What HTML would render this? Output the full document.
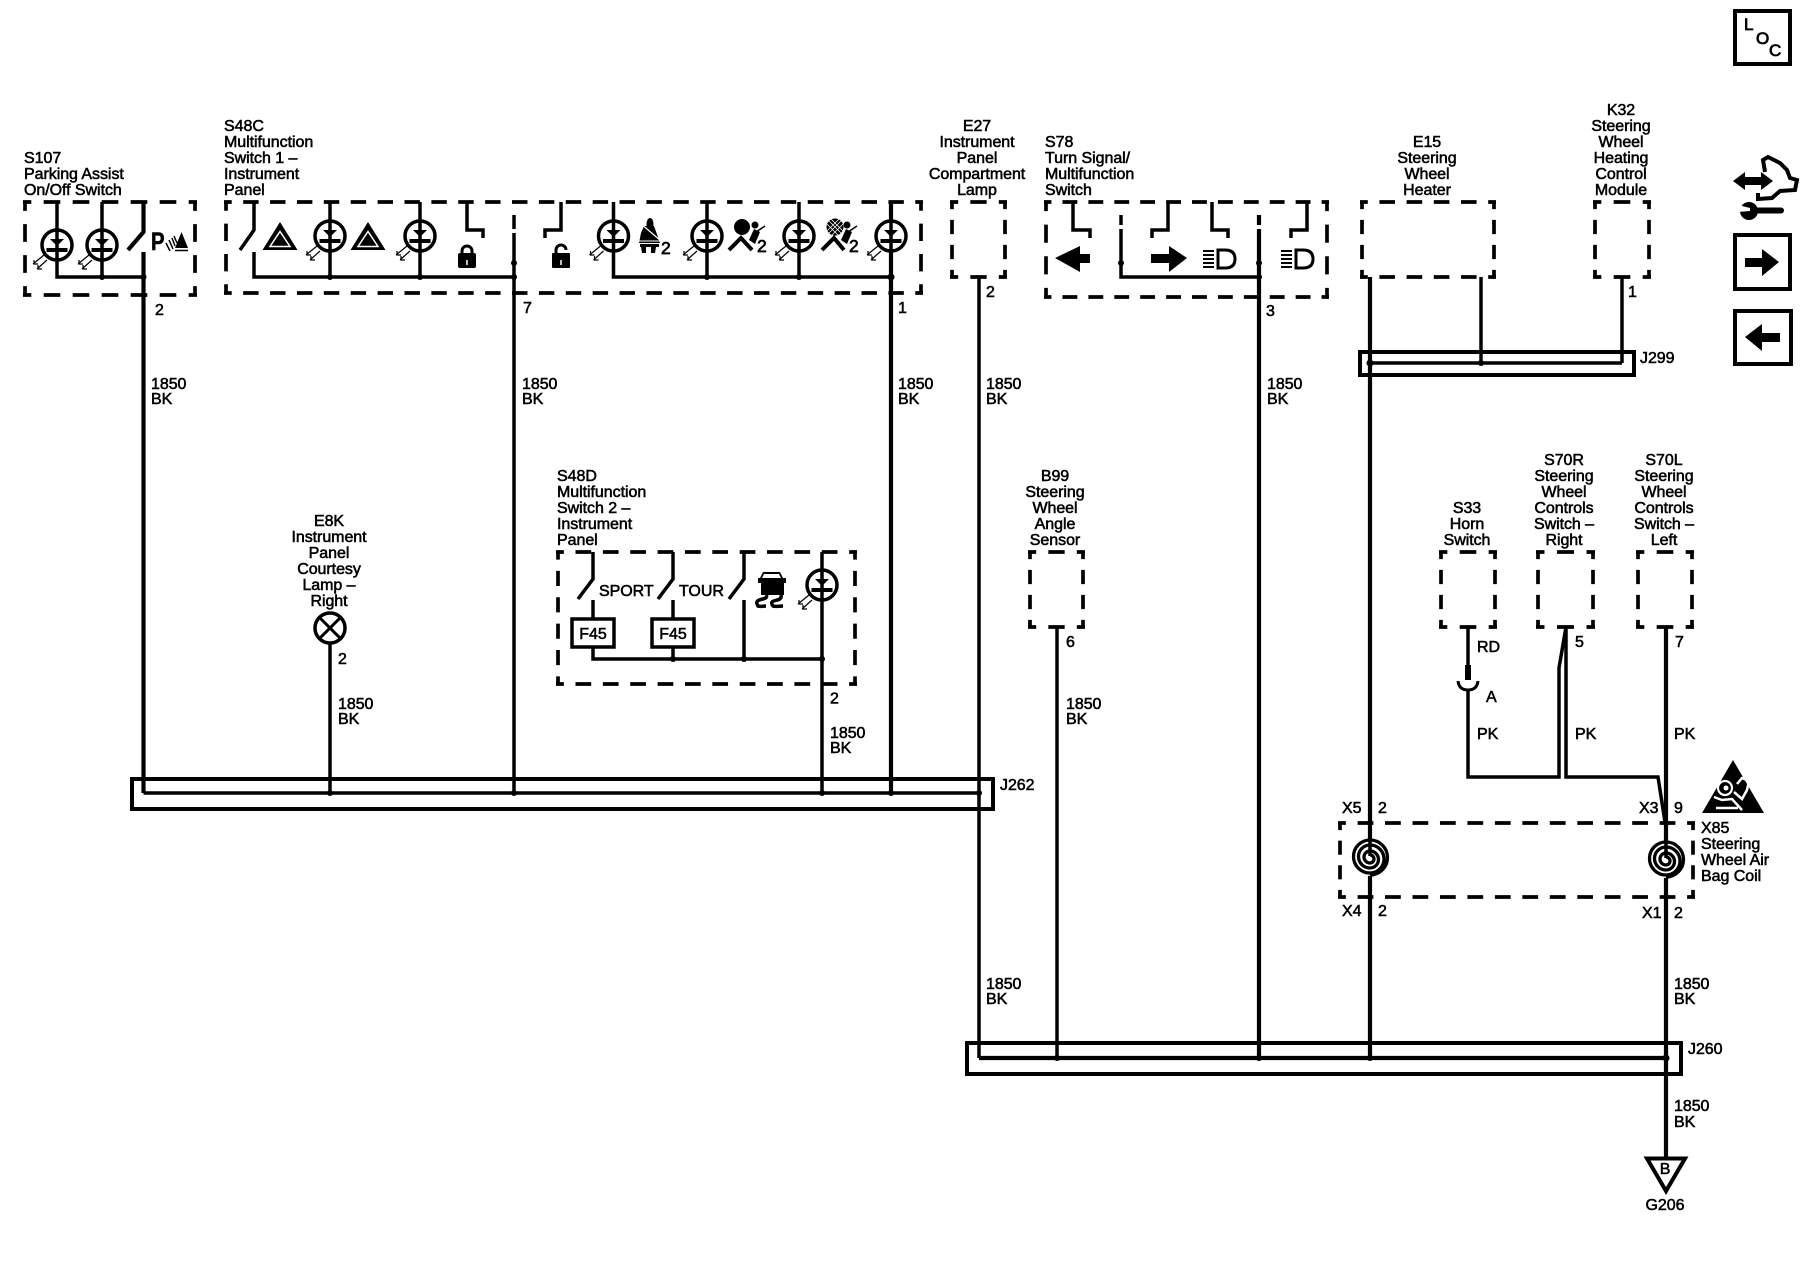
<!DOCTYPE html>
<html><head><meta charset="utf-8"><title>Wiring diagram</title>
<style>
html,body{margin:0;padding:0;background:#fff}
svg{display:block}
text{font-family:"Liberation Sans",sans-serif;font-size:16px;fill:#000;stroke:#000;stroke-width:.55;letter-spacing:-.05px}
.m{text-anchor:middle}
.w{fill:none;stroke:#000;stroke-width:3.5}
.h{fill:none;stroke:#000;stroke-width:4.2}
.t{fill:none;stroke:#000;stroke-width:3}
.d{fill:none;stroke:#000;stroke-width:3.7;stroke-dasharray:15.5 11.5;stroke-dashoffset:7.75}
</style></head><body>
<svg xmlns="http://www.w3.org/2000/svg" width="1800" height="1280" viewBox="0 0 1800 1280">
<defs>
<g id="led">
<circle r="15" fill="#fff" stroke="#000" stroke-width="3.5"/>
<path d="M-7-6H7L0 1Z" fill="#000"/>
<path d="M-10.500 5H10.500" stroke="#000" stroke-width="4"/>
<path d="M-13 10L-24 19M-10 15L-20 24M-23 15v4h4M-19 20v4h4" fill="none" stroke="#000" stroke-width="1.200"/>
</g>
<g id="coil">
<circle r="18" fill="#fff"/>
<path d="M0-3A4 4 0 0 1 0 5A6 6 0 0 1 0-7A8.500 8.500 0 0 1 0 10A11.500 11.500 0 0 1 0-13A14 14 0 0 1 0 15A16.500 16.500 0 0 1 0-18A17.500 17.500 0 0 1 0 17" fill="none" stroke="#000" stroke-width="3.300"/>
</g>
<g id="haz">
<path d="M0-28L17.500 0H-17.500Z" fill="#000"/>
<path d="M0-18.500L10-3.500H-10Z" fill="#000" stroke="#fff" stroke-width="1.500"/>
</g>
<g id="lamp">
<path d="M0 0V18H7Q17 18 17 9T7 0Z" fill="none" stroke="#000" stroke-width="3" transform="translate(15 0)"/>
<path d="M0 1H11M0 5H11M0 9H11M0 13H11M0 17H11" stroke="#000" stroke-width="2"/>
</g>
</defs>

<!-- dashed boxes -->
<g>
<path class="d" pathLength="162" d="M23 202H197"/><path class="d" pathLength="162" d="M23 295H197"/><path class="d" pathLength="81" d="M25 202V295"/><path class="d" pathLength="81" d="M195 202V295"/>
<path class="d" pathLength="702" d="M224 202H923"/><path class="d" pathLength="702" d="M224 293H923"/><path class="d" pathLength="81" d="M226 202V293"/><path class="d" pathLength="81" d="M921 202V293"/>
<path class="d" pathLength="54" d="M950 202H1007"/><path class="d" pathLength="54" d="M950 277H1007"/><path class="d" pathLength="81" d="M952 202V277"/><path class="d" pathLength="81" d="M1005 202V277"/>
<path class="d" pathLength="297" d="M1044 202H1329"/><path class="d" pathLength="297" d="M1044 297H1329"/><path class="d" pathLength="81" d="M1046 202V297"/><path class="d" pathLength="81" d="M1327 202V297"/>
<path class="d" pathLength="135" d="M1360 202H1496"/><path class="d" pathLength="135" d="M1360 277H1496"/><path class="d" pathLength="81" d="M1362 202V277"/><path class="d" pathLength="81" d="M1494 202V277"/>
<path class="d" pathLength="54" d="M1593 202H1651"/><path class="d" pathLength="54" d="M1593 277H1651"/><path class="d" pathLength="81" d="M1595 202V277"/><path class="d" pathLength="81" d="M1649 202V277"/>
<path class="d" pathLength="297" d="M556 552H857"/><path class="d" pathLength="297" d="M556 684H857"/><path class="d" pathLength="135" d="M558 552V684"/><path class="d" pathLength="135" d="M855 552V684"/>
<path class="d" pathLength="54" d="M1028 552H1085"/><path class="d" pathLength="54" d="M1028 627H1085"/><path class="d" pathLength="81" d="M1030 552V627"/><path class="d" pathLength="81" d="M1083 552V627"/>
<path class="d" pathLength="54" d="M1439 552H1497"/><path class="d" pathLength="54" d="M1439 627H1497"/><path class="d" pathLength="81" d="M1441 552V627"/><path class="d" pathLength="81" d="M1495 552V627"/>
<path class="d" pathLength="54" d="M1536 552H1595"/><path class="d" pathLength="54" d="M1536 627H1595"/><path class="d" pathLength="81" d="M1538 552V627"/><path class="d" pathLength="81" d="M1593 552V627"/>
<path class="d" pathLength="54" d="M1636 552H1694"/><path class="d" pathLength="54" d="M1636 627H1694"/><path class="d" pathLength="81" d="M1638 552V627"/><path class="d" pathLength="81" d="M1692 552V627"/>
<path class="d" pathLength="351" d="M1338 823H1695"/><path class="d" pathLength="351" d="M1338 897H1695"/><path class="d" pathLength="81" d="M1340 823V897"/><path class="d" pathLength="81" d="M1693 823V897"/>
</g>

<!-- splice bars -->
<rect x="132" y="779" width="861" height="30" fill="none" stroke="#000" stroke-width="4"/>
<rect x="967" y="1043" width="714" height="31" fill="none" stroke="#000" stroke-width="4"/>
<rect x="1360" y="352" width="274" height="23" fill="none" stroke="#000" stroke-width="4"/>

<!-- wires -->
<path class="w" d="M57 202V277H143.500M102 202V277"/>
<path class="h" d="M143.500 202V232L128 250M143.500 252V793"/>
<path class="w" d="M143.500 793H979"/>
<path class="w" d="M254 202V230L240 250M254 252V277H514"/>
<path class="w" d="M330 202V277M420 202V277"/>
<path class="w" d="M467 202V230H483V238M561 202V230H545V238"/>
<path class="w" d="M514 215V229M514 233V793"/>
<path class="w" d="M613.500 202V277H891M707 202V277M799 202V277"/>
<path class="h" d="M891 202V793"/>
<path class="w" d="M330 643V793"/>
<path class="w" d="M979 277V1058"/>
<path class="w" d="M1073 202V230H1090V238M1168 202V230H1152V238M1212 202V230H1228V238M1307 202V230H1291V238"/>
<path class="w" d="M1121 215V225M1121 229V277H1259"/>
<path class="h" d="M1259 215V225M1259 229V1058"/>
<path class="h" d="M1370 277V1058"/>
<path class="w" d="M1481 277V363M1622 277V363M1370 363H1622"/>
<path class="w" d="M593 552V579L578 599M593 600V619M593 647V659H822"/>
<path class="w" d="M673 552V579L658 599M673 600V619M673 647V659"/>
<path class="w" d="M744 552V579L729 599M744 600V659"/>
<path class="w" d="M822 552V793"/>
<path class="w" d="M1057 627V1058"/>
<path class="w" d="M1468 627V665M1468 690V777H1559V668L1566 627V777H1658L1665 822"/>
<path class="h" d="M1666 627V1157"/>
<path class="h" d="M979 1058H1666"/>

<!-- connector on horn -->
<path d="M1465 665h6v15h-6Z" fill="#000"/>
<path d="M1458 681Q1459 690 1468 690T1478 681" class="t"/>

<!-- junction dots -->
<g fill="#000">
<circle cx="102" cy="277" r="3"/><circle cx="143.500" cy="277" r="3"/>
<circle cx="330" cy="277" r="3"/><circle cx="420" cy="277" r="3"/><circle cx="514" cy="263" r="3"/><circle cx="514" cy="277" r="3"/>
<circle cx="707" cy="277" r="3"/><circle cx="799" cy="277" r="3"/><circle cx="891" cy="277" r="3.500"/>
<circle cx="1121" cy="263" r="3"/><circle cx="1259" cy="263" r="3"/><circle cx="1259" cy="277" r="3"/>
<circle cx="1370" cy="363" r="3.500"/><circle cx="1481" cy="363" r="3"/>
<circle cx="330" cy="793" r="3"/><circle cx="514" cy="793" r="3"/><circle cx="822" cy="793" r="3"/><circle cx="891" cy="793" r="3"/><circle cx="979" cy="793" r="3"/>
<circle cx="673" cy="659" r="3"/><circle cx="744" cy="659" r="3"/><circle cx="822" cy="659" r="3"/>
<circle cx="1057" cy="1058" r="3"/><circle cx="1259" cy="1058" r="3"/><circle cx="1370" cy="1058" r="3"/><circle cx="1666" cy="1058" r="3.500"/>
</g>

<!-- LEDs -->
<use href="#led" x="57" y="245"/><use href="#led" x="102" y="245"/>
<use href="#led" x="330" y="236"/><use href="#led" x="420" y="236"/>
<use href="#led" x="613.500" y="236"/><use href="#led" x="707" y="236"/><use href="#led" x="799" y="236"/><use href="#led" x="891" y="236"/>
<use href="#led" x="822" y="585"/>
<path d="M57 230V260M102 230V260M330 221V251M420 221V251M613.500 221V251M707 221V251M799 221V251M891 221V251M822 570V600" class="w"/>

<!-- hazard triangles -->
<use href="#haz" x="280" y="250"/><use href="#haz" x="368" y="250"/>

<!-- locks -->
<g fill="#000">
<rect x="458" y="253" width="18" height="15" rx="2"/>
<rect x="552" y="253" width="18" height="15" rx="1"/>
</g>
<path d="M462 254V251A5 5 0 0 1 472 251V254" fill="none" stroke="#000" stroke-width="3"/>
<path d="M556 254V250A5 5 0 0 1 566 250" fill="none" stroke="#000" stroke-width="3"/>
<path d="M467 260v5M561 260v5" stroke="#fff" stroke-width="1.500"/>

<!-- P icon -->
<text x="151" y="250" style="font-size:25px;font-weight:bold" textLength="13.500" lengthAdjust="spacingAndGlyphs">P</text>
<path d="M166 243L170 251M169 240L173 249M172 238L175 246M174 236L177 243" stroke="#000" stroke-width="1.500" fill="none"/>
<path d="M181.500 232L188 248H175Z" fill="#000"/><path d="M175 250.500H188" stroke="#000" stroke-width="1.500"/>

<!-- seatbelt -->
<ellipse cx="650" cy="224" rx="3.500" ry="6" fill="#000"/>
<path d="M644 226L654 226L659 240L660 243L639 243L641 233Z" fill="#000"/>
<path d="M640 223L661 241" stroke="#fff" stroke-width="1.200"/>
<path d="M639 241H660" stroke="#fff" stroke-width="1"/>
<path d="M640 244H659V247H656L655 253H651V247H646V253H642L641 247H640Z" fill="#000"/>
<text x="661" y="254" style="font-size:17.500px;stroke-width:.7">2</text>

<!-- airbag -->
<circle cx="742" cy="227" r="8" fill="#000"/>
<path d="M729 250L741 238L752 250" fill="none" stroke="#000" stroke-width="4"/>
<circle cx="755" cy="225" r="3.500" fill="#000"/><path d="M749 240L754 229L760 232L755 244Z" fill="#000"/>
<path d="M756 232L765 226" stroke="#000" stroke-width="1.500"/>
<text x="757" y="252" style="font-size:17.500px;stroke-width:.7">2</text>

<!-- airbag crossed -->
<circle cx="835" cy="227" r="8.500" fill="#000"/>
<path d="M828 220L842 234M842 220L828 234M831 219L843 231M839 219L827 231M827 224L838 235M843 224L832 235" stroke="#fff" stroke-width=".8"/>
<path d="M822 250L834 238L844 250" fill="none" stroke="#000" stroke-width="4"/>
<circle cx="847" cy="225" r="3.500" fill="#000"/><path d="M841 240L846 229L852 232L847 244Z" fill="#000"/>
<path d="M848 232L857 226" stroke="#000" stroke-width="1.500"/>
<text x="849" y="252" style="font-size:17.500px;stroke-width:.7">2</text>

<!-- arrows S78 -->
<path d="M1055 258L1080 246V254H1090V263H1080V272Z" fill="#000"/>
<path d="M1187 258L1169 246V254H1151V263H1169V272Z" fill="#000"/>
<use href="#lamp" x="1203" y="250"/><use href="#lamp" x="1281" y="250"/>

<!-- lamp E8K -->
<circle cx="330" cy="628" r="15" fill="#fff" stroke="#000" stroke-width="3.500"/>
<path d="M319 617L341 639M341 617L319 639" stroke="#000" stroke-width="3"/>

<!-- F45 -->
<rect x="572" y="619" width="42" height="28" fill="#fff" stroke="#000" stroke-width="3.500"/>
<rect x="652" y="619" width="42" height="28" fill="#fff" stroke="#000" stroke-width="3.500"/>

<!-- traction icon -->
<path d="M763 572H780L783 578H786V583H784V595H761V583H758V578H760Z" fill="#000"/>
<path d="M764 574H779L781 578H762Z" fill="#fff"/>
<path d="M766 595C770 601 752 597 758 606C760 607 763 606 766 606" fill="none" stroke="#000" stroke-width="3.500"/>
<path d="M781 595C783 603 767 598 773 606C775 607 779 606 783 606" fill="none" stroke="#000" stroke-width="3.500"/>

<!-- coils -->
<use href="#coil" x="1370" y="858"/><use href="#coil" x="1666" y="860"/>
<path d="M1370 835V856M1666 837V858" class="w"/>

<!-- airbag warning triangle -->
<path d="M1733 760L1764 813H1702Z" fill="#000"/>
<circle cx="1725" cy="788" r="7" fill="none" stroke="#fff" stroke-width="2.200"/>
<circle cx="1726" cy="788" r="2.500" fill="#fff"/>
<path d="M1737 784L1742 778L1749 781L1747 790L1742 799L1734 792" fill="none" stroke="#fff" stroke-width="2.500"/>
<path d="M1714 797L1722 800L1732 799L1742 810M1716 808H1738" fill="none" stroke="#fff" stroke-width="2.500"/>

<!-- ground -->
<path d="M1647 1158.500H1685L1666 1191Z" fill="#fff" stroke="#000" stroke-width="4"/>

<!-- right-hand nav icons -->
<rect x="1735" y="11" width="55" height="53" fill="none" stroke="#000" stroke-width="4"/>
<rect x="1735" y="235" width="55" height="54" fill="none" stroke="#000" stroke-width="4"/>
<rect x="1735" y="311" width="56" height="53" fill="none" stroke="#000" stroke-width="4"/>
<path d="M1779 262L1762 249V258H1745V267H1762V276Z" fill="#000"/>
<path d="M1745 337L1762 324V333H1780V342H1762V351Z" fill="#000"/>
<path d="M1733 181L1745 172V177H1761V172L1773 181L1761 190V185H1745V190Z" fill="#000"/>
<path d="M1765 172L1763 160L1768 157L1780 163L1787 170L1790 178L1797 180L1795 190L1780 191L1772 198L1758 199L1758 193" fill="none" stroke="#000" stroke-width="4"/>
<path d="M1750 210.500H1781" stroke="#000" stroke-width="6" stroke-linecap="round"/>
<circle cx="1749" cy="211" r="9" fill="#000"/>
<path d="M1738 205L1750 208L1750 211L1738 212Z" fill="#fff"/>

<!-- labels -->
<text x="24" y="163">S107</text><text x="24" y="179">Parking Assist</text><text x="24" y="195">On/Off Switch</text>
<text x="224" y="131">S48C</text><text x="224" y="147">Multifunction</text><text x="224" y="163">Switch 1 –</text><text x="224" y="179">Instrument</text><text x="224" y="195">Panel</text>
<text class="m" x="977" y="131">E27</text><text class="m" x="977" y="147">Instrument</text><text class="m" x="977" y="163">Panel</text><text class="m" x="977" y="179">Compartment</text><text class="m" x="977" y="195">Lamp</text>
<text class="m" x="1427" y="147">E15</text><text class="m" x="1427" y="163">Steering</text><text class="m" x="1427" y="179">Wheel</text><text class="m" x="1427" y="195">Heater</text>
<text class="m" x="1621" y="115">K32</text><text class="m" x="1621" y="131">Steering</text><text class="m" x="1621" y="147">Wheel</text><text class="m" x="1621" y="163">Heating</text><text class="m" x="1621" y="179">Control</text><text class="m" x="1621" y="195">Module</text>
<text class="m" x="329" y="526">E8K</text><text class="m" x="329" y="542">Instrument</text><text class="m" x="329" y="558">Panel</text><text class="m" x="329" y="574">Courtesy</text><text class="m" x="329" y="590">Lamp –</text><text class="m" x="329" y="606">Right</text>
<text class="m" x="1055" y="481">B99</text><text class="m" x="1055" y="497">Steering</text><text class="m" x="1055" y="513">Wheel</text><text class="m" x="1055" y="529">Angle</text><text class="m" x="1055" y="545">Sensor</text>
<text class="m" x="1467" y="513">S33</text><text class="m" x="1467" y="529">Horn</text><text class="m" x="1467" y="545">Switch</text>
<text class="m" x="1564" y="465">S70R</text><text class="m" x="1564" y="481">Steering</text><text class="m" x="1564" y="497">Wheel</text><text class="m" x="1564" y="513">Controls</text><text class="m" x="1564" y="529">Switch –</text><text class="m" x="1564" y="545">Right</text>
<text class="m" x="1664" y="465">S70L</text><text class="m" x="1664" y="481">Steering</text><text class="m" x="1664" y="497">Wheel</text><text class="m" x="1664" y="513">Controls</text><text class="m" x="1664" y="529">Switch –</text><text class="m" x="1664" y="545">Left</text>
<text x="1045" y="147">S78</text><text x="1045" y="163">Turn Signal/</text><text x="1045" y="179">Multifunction</text><text x="1045" y="195">Switch</text>
<text x="557" y="481">S48D</text><text x="557" y="497">Multifunction</text><text x="557" y="513">Switch 2 –</text><text x="557" y="529">Instrument</text><text x="557" y="545">Panel</text>
<text x="1701" y="833">X85</text><text x="1701" y="849">Steering</text><text x="1701" y="865">Wheel Air</text><text x="1701" y="881">Bag Coil</text>

<text x="599" y="596">SPORT</text><text x="679" y="596">TOUR</text>
<text class="m" x="593" y="639">F45</text><text class="m" x="673" y="639">F45</text>

<text x="155" y="315">2</text><text x="523" y="313">7</text><text x="898" y="313">1</text><text x="986" y="297">2</text><text x="1266" y="316">3</text><text x="1628" y="297">1</text>
<text x="338" y="664">2</text><text x="830" y="703.500">2</text><text x="1066" y="647">6</text><text x="1575" y="647">5</text><text x="1675" y="647">7</text>
<text x="1477" y="652">RD</text><text x="1486" y="702">A</text><text x="1477" y="739">PK</text><text x="1575" y="739">PK</text><text x="1674" y="739">PK</text>
<text x="1342" y="813">X5</text><text x="1378" y="813">2</text><text x="1639" y="813">X3</text><text x="1674" y="813">9</text>
<text x="1342" y="916">X4</text><text x="1378" y="916">2</text><text x="1642" y="918">X1</text><text x="1674" y="918">2</text>

<text x="151" y="389">1850</text><text x="151" y="404">BK</text>
<text x="522" y="389">1850</text><text x="522" y="404">BK</text>
<text x="898" y="389">1850</text><text x="898" y="404">BK</text>
<text x="986" y="389">1850</text><text x="986" y="404">BK</text>
<text x="1267" y="389">1850</text><text x="1267" y="404">BK</text>
<text x="338" y="709">1850</text><text x="338" y="724">BK</text>
<text x="830" y="738">1850</text><text x="830" y="753">BK</text>
<text x="1066" y="709">1850</text><text x="1066" y="724">BK</text>
<text x="986" y="989">1850</text><text x="986" y="1004">BK</text>
<text x="1674" y="989">1850</text><text x="1674" y="1004">BK</text>
<text x="1674" y="1111">1850</text><text x="1674" y="1127">BK</text>

<text x="1000" y="790">J262</text><text x="1640" y="363">J299</text><text x="1688" y="1054">J260</text>
<text class="m" x="1665" y="1174">B</text><text class="m" x="1665" y="1210">G206</text>

<text x="1744" y="30" style="font-size:17px;stroke-width:.8">L</text><text x="1756" y="44" style="font-size:17px;stroke-width:.8">O</text><text x="1769" y="56" style="font-size:17px;stroke-width:.8">C</text>
</svg>
</body></html>
